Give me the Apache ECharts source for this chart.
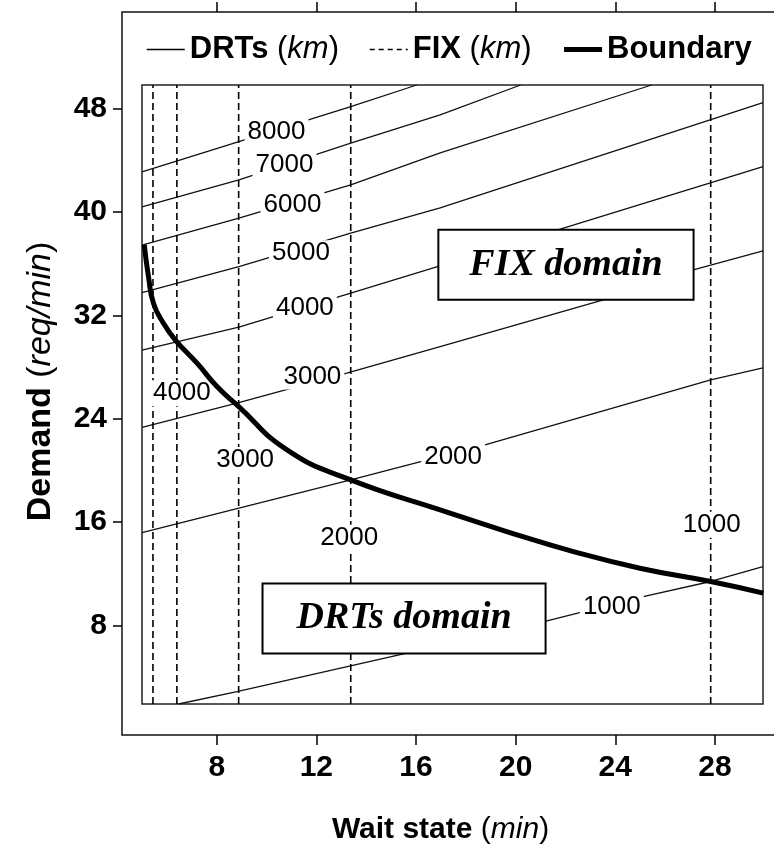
<!DOCTYPE html>
<html>
<head>
<meta charset="utf-8">
<script src="https://cdn.jsdelivr.net/npm/echarts@6/dist/echarts.min.js"></script>
<style>
html,body{margin:0;padding:0;background:#fff;}
#chart{width:774px;height:845px;}
</style>
</head>
<body>
<div id="chart"></div>
<script>
// ---- data ----
const xTicks = [8, 12, 16, 20, 24, 28];
const yTicks = [8, 16, 24, 32, 40, 48];
const xRange = [5, 29.93];
const yRange = [1.9, 49.85];

// DRTs contour lines (km): [wait, demand]
const drts1000 = [[6.47,1.9],[8.81,2.86],[15.63,5.84],[21.14,8.29],[25.12,10.22],[27.83,11.39],[29.93,12.55]];
const drts2000 = [[5,15.17],[13.38,19.26],[18.77,21.97],[27.83,27.0],[29.93,27.94]];
const drts3000 = [[5,23.33],[8.81,25.2],[13.22,27.53],[16.97,29.59],[23.52,33.21],[27.13,35.53],[29.93,37.0]];
const drts4000 = [[5,29.31],[8.89,31.09],[13.38,33.72],[21.92,38.76],[29.93,43.53]];
const drts5000 = [[5,33.76],[8.89,35.78],[13.38,38.37],[16.97,40.33],[29.93,48.49]];
const drts6000 = [[5,37.45],[8.89,39.53],[13.38,42.11],[16.97,44.59],[25.46,49.85]];
const drts7000 = [[5,40.41],[8.89,42.5],[13.38,45.34],[16.97,47.54],[20.2,49.85]];
const drts8000 = [[5,43.12],[8.89,45.47],[13.38,48.18],[16.03,49.85]];
const drtsLines = [drts1000, drts2000, drts3000, drts4000, drts5000, drts6000, drts7000, drts8000];

// FIX contour lines (km): constant wait state
const fixX = [5.44, 6.40, 8.88, 13.38, 27.83];

// Boundary curve
const boundaryX = [5.09, 5.26, 5.46, 5.86, 6.33, 7.21, 8.01, 8.81, 10.82, 13.38, 16.97, 19.64, 22.32, 24.99, 27.83, 29.94];
const boundaryY = [37.47, 35.01, 32.95, 31.40, 30.11, 28.30, 26.49, 25.07, 21.59, 19.26, 16.94, 15.26, 13.71, 12.42, 11.39, 10.49];

// contour labels: [wait, demand, text]
const drtsLabels = [[10.40,46.24,'8000'],[10.72,43.66,'7000'],[11.04,40.56,'6000'],[11.38,36.82,'5000'],[11.54,32.56,'4000'],[11.84,27.26,'3000'],[17.49,21.07,'2000'],[23.86,9.45,'1000']];
const fixLabels = [[6.60,25.98,'4000'],[9.14,20.81,'3000'],[13.32,14.77,'2000'],[27.87,15.78,'1000']];
const domainLabels = [[22.02,35.92,'FIX domain'],[15.52,8.53,'DRTs domain']];

// ---- chart ----
const SANS = 'Liberation Sans, Arial, sans-serif';
const SERIF = 'Liberation Serif, Times New Roman, serif';
const chart = echarts.init(document.getElementById('chart'), null, {renderer: 'canvas'});

const series = [];
drtsLines.forEach(function (pts) {
  series.push({
    name: 'DRTs', type: 'line', data: pts, symbol: 'none', silent: true, z: 2,
    itemStyle: {color: '#000'},
    lineStyle: {color: '#111', width: 1.3}
  });
});
fixX.forEach(function (x) {
  series.push({
    name: 'FIX', type: 'line', data: [[x, yRange[0]], [x, yRange[1]]], symbol: 'none', silent: true, z: 2,
    itemStyle: {color: '#000'},
    lineStyle: {color: '#000', width: 1.6, type: [7, 4]}
  });
});
series.push({
  type: 'scatter', data: drtsLabels.concat(fixLabels), symbolSize: 0, silent: true, z: 5,
  itemStyle: {opacity: 1, color: '#000'},
  label: {
    show: true, position: 'inside', formatter: function (p) { return p.data[2]; },
    fontFamily: SANS, fontSize: 26, color: '#000', backgroundColor: '#fff', padding: [0, 3]
  }
});
series.push({
  name: 'Boundary', type: 'line', smooth: 0.5, symbol: 'none', silent: true, z: 10,
  itemStyle: {color: '#000'},
  data: boundaryX.map(function (x, i) { return [x, boundaryY[i]]; }),
  lineStyle: {color: '#000', width: 5}
});
series.push({
  type: 'scatter', symbolSize: 0, silent: true, z: 12,
  itemStyle: {opacity: 1, color: '#000'},
  data: [
    {value: domainLabels[0], label: {padding: [14, 30]}},
    {value: domainLabels[1], label: {padding: [14, 33]}}
  ],
  label: {
    show: true, position: 'inside', formatter: function (p) { return p.data.value[2]; },
    fontFamily: SERIF, fontSize: 38, fontWeight: 'bold', fontStyle: 'italic', color: '#000',
    lineHeight: 40, backgroundColor: '#fff', borderColor: '#000', borderWidth: 2
  }
});

function rich(size) {
  return {
    b: {fontFamily: SANS, fontSize: size, fontWeight: 'bold', color: '#000'},
    r: {fontFamily: SANS, fontSize: size, color: '#000'},
    i: {fontFamily: SANS, fontSize: size, fontStyle: 'italic', color: '#000'}
  };
}

chart.setOption({
  animation: false,
  backgroundColor: '#fff',
  grid: {left: 142, top: 85, width: 621, height: 619, outerBoundsMode: 'none', containLabel: false,
    show: true, borderColor: '#222', borderWidth: 1.5, backgroundColor: 'transparent'},
  legend: {
    data: [
      {name: 'DRTs', lineStyle: {width: 1.5, color: '#000'}},
      {name: 'FIX', lineStyle: {width: 1.5, color: '#000', type: [5, 4]}},
      {name: 'Boundary', lineStyle: {width: 5, color: '#000'}}
    ],
    left: 141, top: 29, itemGap: 30, itemWidth: 38, itemHeight: 14,
    selectedMode: false,
    itemStyle: {opacity: 0},
    formatter: function (n) {
      if (n === 'DRTs') return '{b|DRTs} {r|(}{i|km}{r|)}';
      if (n === 'FIX') return '{b|FIX} {r|(}{i|km}{r|)}';
      return '{b|Boundary}';
    },
    textStyle: {fontFamily: SANS, fontSize: 31, color: '#000', rich: rich(31)}
  },
  graphic: [{
    type: 'rect', silent: true, z: 0,
    shape: {x: 122, y: 12, width: 670, height: 723},
    style: {fill: null, stroke: '#111', lineWidth: 1.5}
  }],
  xAxis: [{
    type: 'value', min: xRange[0], max: xRange[1], position: 'bottom', offset: 31,
    axisLine: {show: false}, splitLine: {show: false},
    axisTick: {show: true, customValues: xTicks, length: 10, lineStyle: {color: '#000', width: 1.5}},
    axisLabel: {customValues: xTicks, margin: 18, fontFamily: SANS, fontSize: 30, fontWeight: 'bold', color: '#000'},
    name: '{b|Wait state} {r|(}{i|min}{r|)}', nameLocation: 'middle', nameGap: 80,
    nameTextStyle: {fontFamily: SANS, fontSize: 30, rich: rich(30), padding: [0, 24, 0, 0]}
  }, {
    type: 'value', min: xRange[0], max: xRange[1], position: 'top', offset: 73,
    axisLine: {show: false}, splitLine: {show: false},
    axisTick: {show: true, customValues: xTicks, length: 10, lineStyle: {color: '#000', width: 1.5}},
    axisLabel: {show: false}
  }],
  yAxis: [{
    type: 'value', min: yRange[0], max: yRange[1], position: 'left', offset: 20,
    axisLine: {show: false}, splitLine: {show: false},
    axisTick: {show: true, customValues: yTicks, length: 9, lineStyle: {color: '#000', width: 1.5}},
    axisLabel: {customValues: yTicks, margin: 15, fontFamily: SANS, fontSize: 30, fontWeight: 'bold', color: '#000'},
    name: '{b|Demand} {r|(}{i|req/min}{r|)}', nameLocation: 'middle', nameGap: 64,
    nameTextStyle: {fontFamily: SANS, fontSize: 34, rich: rich(34), padding: [0, 0, 0, 26]}
  }],
  series: series
});
</script>
</body>
</html>
